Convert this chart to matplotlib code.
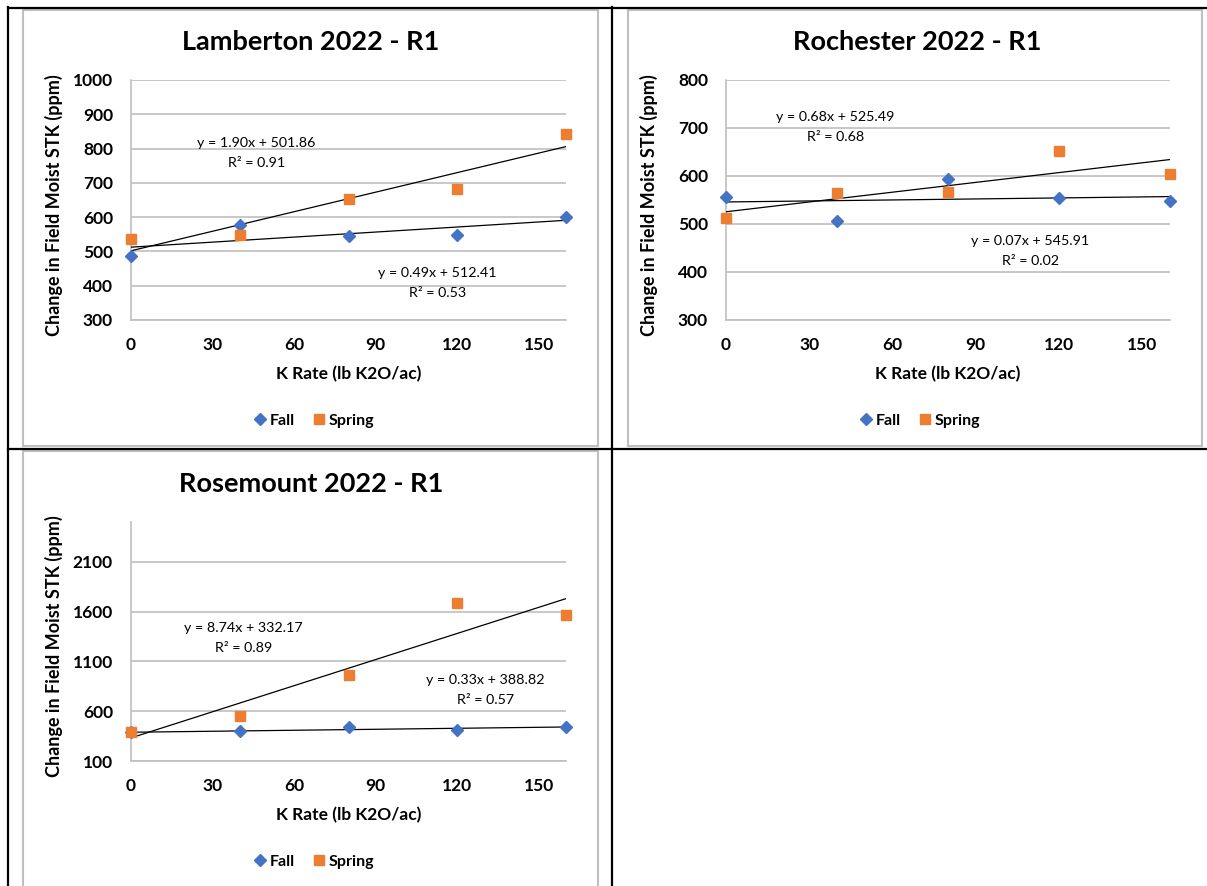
import matplotlib
matplotlib.use("Agg")
import matplotlib.pyplot as plt
from matplotlib.lines import Line2D
import numpy as np

plt.rcParams['font.family'] = ['Lato', 'DejaVu Sans']

# K rate applied (lb K2O/ac)
k_rate = [0, 40, 80, 120, 160]

# Lamberton 2022 - R1
lamb_fall = [488, 577, 544, 547, 600]
lamb_spring = [535, 548, 654, 683, 843]
lamb_fit_fall = (0.49, 512.41, 0.53)
lamb_fit_spring = (1.90, 501.86, 0.91)

# Rochester 2022 - R1
roch_fall = [557, 506, 593, 554, 547]
roch_spring = [513, 564, 567, 653, 604]
roch_fit_fall = (0.07, 545.91, 0.02)
roch_fit_spring = (0.68, 525.49, 0.68)

# Rosemount 2022 - R1
rose_fall = [390, 403, 443, 410, 437]
rose_spring = [393, 550, 960, 1687, 1570]
rose_fit_fall = (0.33, 388.82, 0.57)
rose_fit_spring = (8.74, 332.17, 0.89)

W, H = 1207, 886
BLUE = '#4472C4'
ORANGE = '#ED7D31'
GRID = '#BFBFBF'


def fx(x):
    return x / W


def fy(y):
    return 1 - y / H


def draw_chart(fig, box, cx, title, fall, spring, fits, ylim, yticks, labels_at):
    # box: plot area in pixels (left, top, right, bottom); cx: centre of the chart frame
    left, top, right, bottom = box
    ax = fig.add_axes([fx(left), fy(bottom), (right - left) / W, (bottom - top) / H])
    xs = np.array([0, 160])
    for m, b, _ in fits:
        ax.plot(xs, m * xs + b, color='black', lw=0.9, zorder=3)
    ax.plot(k_rate, fall, ls='none', marker='D', ms=6.5, color=BLUE,
            label='Fall', zorder=4, clip_on=False)
    ax.plot(k_rate, spring, ls='none', marker='s', ms=7.5, color=ORANGE,
            label='Spring', zorder=4, clip_on=False)

    ax.set_xlim(0, 160)
    ax.set_ylim(*ylim)
    ax.set_xticks(range(0, 151, 30))
    ax.set_yticks(yticks)
    ax.tick_params(length=0, labelsize=12.5)
    ax.tick_params(axis='y', pad=13)
    ax.tick_params(axis='x', pad=12)
    for lab in ax.get_xticklabels() + ax.get_yticklabels():
        lab.set_fontweight('bold')
    ax.grid(axis='y', color=GRID, lw=1.2)
    ax.set_axisbelow(True)
    for s in ['top', 'right']:
        ax.spines[s].set_visible(False)
    for s in ['left', 'bottom']:
        ax.spines[s].set_color(GRID)
        ax.spines[s].set_linewidth(1.2)

    fig.text(fx(cx), fy(top - 38), title, ha='center', va='center',
             fontsize=19.5, fontweight='bold')
    fig.text(fx((left + right) / 2), fy(bottom + 54), 'K Rate (lb K2O/ac)',
             ha='center', va='center', fontsize=12.5, fontweight='bold')
    fig.text(fx(left - 77), fy((top + bottom) / 2 + 5),
             'Change in Field Moist STK (ppm)', ha='center', va='center',
             rotation=90, fontsize=13, fontweight='bold')

    # trendline equations, one line each
    for (m, b, r2), (tx, ty) in zip(fits, labels_at):
        fig.text(fx(tx), fy(ty), f"y = {m:.2f}x + {b:.2f}", ha='center',
                 va='center', fontsize=10.3)
        fig.text(fx(tx + 1), fy(ty + 20), f"R² = {r2:.2f}", ha='center',
                 va='center', fontsize=10.3)

    fig.legend(handles=ax.get_lines()[2:], loc='center',
               bbox_to_anchor=(fx(cx + 2), fy(bottom + 101)), ncol=2,
               frameon=False, prop={'weight': 'bold', 'size': 11.5},
               handletextpad=0.1, columnspacing=1.0, handlelength=1.0,
               markerscale=1.0)
    return ax


fig = plt.figure(figsize=(W / 100, H / 100), dpi=100)

draw_chart(fig, (131, 80, 566, 320), 311, 'Lamberton 2022 - R1',
           lamb_fall, lamb_spring, [lamb_fit_spring, lamb_fit_fall],
           (300, 1000), range(300, 1001, 100), [(256, 143), (437, 273)])

draw_chart(fig, (726, 80, 1170, 320), 917, 'Rochester 2022 - R1',
           roch_fall, roch_spring, [roch_fit_spring, roch_fit_fall],
           (300, 800), range(300, 801, 100), [(835, 117), (1030, 241)])

draw_chart(fig, (131, 522, 566, 761), 311, 'Rosemount 2022 - R1',
           rose_fall, rose_spring, [rose_fit_spring, rose_fit_fall],
           (100, 2500), range(100, 2101, 500), [(243, 628), (485, 680)])

# light chart frames
frames = [(23, 10, 598, 446), (628, 10, 1202, 446), (23, 451, 598, 900)]
for l, t, r, b in frames:
    for xs, ys in [([l, r], [t, t]), ([l, r], [b, b]), ([l, l], [t, b]), ([r, r], [t, b])]:
        fig.add_artist(Line2D([fx(v) for v in xs], [fy(v) for v in ys],
                              color='#BFBFBF', lw=1.5))

# table borders
for xs, ys in [([8, 1207], [7.5, 7.5]), ([8, 1207], [449, 449]),
               ([7.5, 7.5], [7, 886]), ([612, 612], [7, 886])]:
    fig.add_artist(Line2D([fx(v) for v in xs], [fy(v) for v in ys],
                          color='black', lw=1.6))

fig.savefig('out.png', dpi=100)
